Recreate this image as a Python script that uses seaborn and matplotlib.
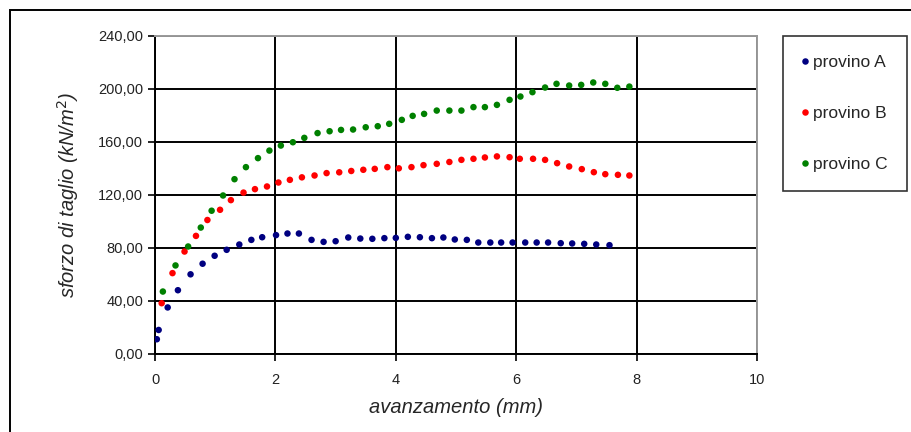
import matplotlib

matplotlib.use("Agg")
import matplotlib.pyplot as plt
import pandas as pd
import seaborn as sns
from matplotlib.patches import Rectangle
from matplotlib.ticker import FuncFormatter, MultipleLocator

# avanzamento (mm) / sforzo di taglio (kN/m2)
x_a = [0.03, 0.06, 0.21, 0.38, 0.59, 0.79, 0.99, 1.19, 1.40, 1.60, 1.78, 2.01, 2.20, 2.39,
       2.60, 2.80, 3.00, 3.21, 3.41, 3.61, 3.81, 4.00, 4.20, 4.40, 4.60, 4.79, 4.98, 5.18,
       5.37, 5.57, 5.75, 5.94, 6.15, 6.34, 6.53, 6.74, 6.93, 7.13, 7.33, 7.55]
y_a = [11, 18, 35, 48, 60, 68, 74, 78.5, 82.5, 86, 88, 89.6, 90.8, 90.8,
       86, 84.5, 85, 87.8, 87, 86.8, 87.3, 87.5, 88.3, 88, 87.3, 87.8, 86.3, 86,
       84, 84, 84, 84, 84, 84, 84, 83.5, 83.3, 83, 82.5, 82]

x_b = [0.11, 0.29, 0.49, 0.68, 0.87, 1.08, 1.26, 1.47, 1.66, 1.86, 2.05, 2.24, 2.44,
       2.65, 2.85, 3.06, 3.26, 3.46, 3.65, 3.86, 4.05, 4.26, 4.46, 4.68, 4.89,
       5.09, 5.29, 5.48, 5.68, 5.89, 6.06, 6.28, 6.48, 6.68, 6.88, 7.09, 7.29, 7.48,
       7.69, 7.88]
y_b = [38.2, 60.9, 77.2, 89, 101, 108.7, 116, 121.7, 124.3, 126.3, 129.3, 131.3, 133.2,
       134.6, 136.4, 137, 138, 138.9, 139.6, 140.9, 140, 140.9, 142.4, 143.4, 144.8,
       146.4, 147.2, 148.2, 149, 148.4, 147.2, 147.2, 146.4, 143.9, 141.4, 139.4, 137.1,
       135.6, 135.1, 134.6]

x_c = [0.13, 0.34, 0.55, 0.76, 0.94, 1.13, 1.32, 1.51, 1.71, 1.90, 2.09, 2.29, 2.48,
       2.70, 2.90, 3.09, 3.29, 3.50, 3.70, 3.89, 4.10, 4.28, 4.47, 4.68, 4.89,
       5.09, 5.29, 5.48, 5.68, 5.89, 6.07, 6.27, 6.48, 6.67, 6.88, 7.08, 7.28, 7.48,
       7.68, 7.88]
y_c = [47, 66.7, 81, 95.3, 108, 119.5, 131.8, 140.9, 147.7, 153.4, 157.2, 159.7, 163,
       166.6, 168, 169, 169.3, 171, 171.8, 173.6, 176.6, 179.6, 181.1, 183.6, 183.6,
       183.6, 186.2, 186.2, 187.9, 191.7, 194.2, 197.5, 201, 203.8, 202.5, 203, 204.8,
       203.8, 200.8, 201.7]

series = ["provino A", "provino B", "provino C"]
colors = ["#000080", "#ff0000", "#008000"]

df = pd.concat([
    pd.DataFrame({"x": x_a, "y": y_a, "provino": series[0]}),
    pd.DataFrame({"x": x_b, "y": y_b, "provino": series[1]}),
    pd.DataFrame({"x": x_c, "y": y_c, "provino": series[2]}),
])

sns.set_theme(style="white")
plt.rcParams["font.family"] = ["Liberation Sans", "DejaVu Sans"]

fig = plt.figure(figsize=(9.12, 4.32), dpi=100)
ax = fig.add_axes([0.170, 0.181, 0.660, 0.736])

sns.scatterplot(data=df, x="x", y="y", hue="provino", palette=dict(zip(series, colors)),
                s=22, linewidth=0, ax=ax, zorder=3)

ax.set_xlim(0, 10)
ax.set_ylim(0, 240)
ax.xaxis.set_major_locator(MultipleLocator(2))
ax.yaxis.set_major_locator(MultipleLocator(40))
ax.yaxis.set_major_formatter(FuncFormatter(lambda v, _: f"{v:.2f}".replace(".", ",")))
ax.grid(True, color="black", linewidth=1.4, zorder=1)
ax.set_axisbelow(True)

for side in ["left", "bottom"]:
    ax.spines[side].set_color("black")
    ax.spines[side].set_linewidth(1.4)
for side in ["top", "right"]:
    ax.spines[side].set_color("#999999")
    ax.spines[side].set_linewidth(1.4)

ax.tick_params(axis="both", direction="out", length=5, width=1.2, color="black",
               labelsize=10.5, labelcolor="#222222", left=True, bottom=True)
ax.tick_params(axis="x", pad=9)
ax.set_xlabel("avanzamento (mm)", fontsize=14.5, style="italic", labelpad=8)
ax.set_ylabel("sforzo di taglio (kN/m$^2$)", fontsize=14.5, style="italic", labelpad=12)

leg = ax.legend(loc="upper left", bbox_to_anchor=(1.043, 1.0), frameon=True, fancybox=False,
                fontsize=12.5, markerscale=1.0, handletextpad=0.35, labelspacing=2.05,
                borderpad=1.1, handlelength=0.3, borderaxespad=0)
leg.get_frame().set_edgecolor("black")
leg.get_frame().set_linewidth(1.2)

# outer frame of the original picture
fig.patches.append(Rectangle((10 / 912, -0.1), 1.2, 1.1 - 10 / 432, transform=fig.transFigure,
                             fill=False, edgecolor="black", linewidth=1.4))

fig.savefig("out.png", dpi=100)
